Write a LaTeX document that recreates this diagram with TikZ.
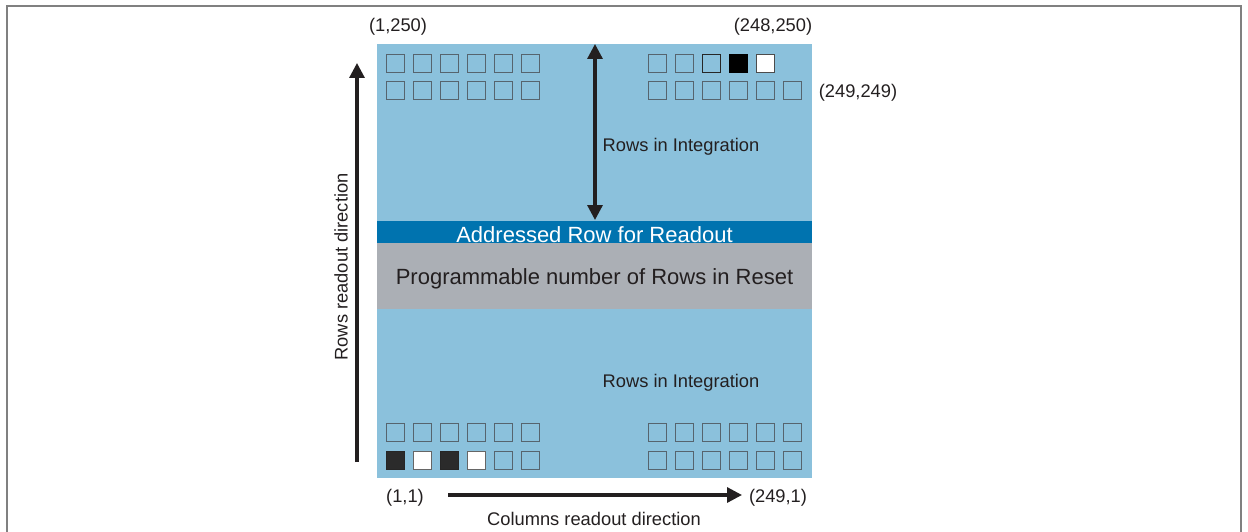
\documentclass[tikz,border=0pt]{standalone}
\usepackage{fontspec}
\setmainfont{Liberation Sans}
\usetikzlibrary{arrows.meta}
\definecolor{pixblue}{HTML}{8BC1DC}
\definecolor{rowblue}{HTML}{0073AF}
\definecolor{resetgray}{HTML}{ABAFB5}
\definecolor{cellline}{HTML}{56646E}
\definecolor{txt}{HTML}{231F20}
\definecolor{framegray}{HTML}{808080}
\tikzset{
  cell/.style={draw=cellline, line width=1.3pt, minimum size=18pt, inner sep=0pt, anchor=north west},
  lbl/.style={text=txt, font=\fontsize{18.3}{22}\selectfont, inner sep=0pt, yshift=-2.5pt},
  biglbl/.style={text=txt, font=\fontsize{22}{26}\selectfont, inner sep=0pt, yshift=-2pt},
  arr/.style={line width=3.2pt, draw=txt, -{Triangle[length=15pt,width=15pt]}},
  darr/.style={line width=3.2pt, draw=txt, {Triangle[length=15pt,width=15pt]}-{Triangle[length=15pt,width=15pt]}},
}
\begin{document}
\begin{tikzpicture}[x=1pt,y=-1pt]
\useasboundingbox (0,0) rectangle (1248,532);
% frame
\draw[framegray, line width=2pt] (7,540) -- (7,6) -- (1241,6) -- (1241,540);
% pixel array
\fill[pixblue] (377,44) rectangle (812,478);
\fill[rowblue] (377,221) rectangle (812,243);
\fill[resetgray] (377,243) rectangle (812,309);
\node[biglbl, text=white] (addr) at (594.5,233) {Addressed Row for Readout};
\node[biglbl] (reset) at (594.5,277) {Programmable number of Rows in Reset};
% cells
\foreach \i in {0,...,5}{
  \node[cell] (tl\i) at ({386+27*\i},54) {};
  \node[cell] (ml\i) at ({386+27*\i},81) {};
  \node[cell] (bl\i) at ({386+27*\i},423) {};
  \node[cell] (br\i) at ({648+27*\i},423) {};
  \node[cell] (mr\i) at ({648+27*\i},81) {};
  \node[cell] (rr\i) at ({648+27*\i},451) {};
}
\foreach \i in {0,1}{
  \node[cell] (tr\i) at ({648+27*\i},54) {};
}
\node[cell, draw=black!85] (tr2) at (702,54) {};
\node[cell, draw=black, fill=black] (tr3) at (729,54) {};
\node[cell, draw=black!70, fill=white] (tr4) at (756,54) {};
\node[cell, draw=black!85, fill=black!83] (ll0) at (386,451) {};
\node[cell, draw=black!60, fill=white] (ll1) at (413,451) {};
\node[cell, draw=black!85, fill=black!83] (ll2) at (440,451) {};
\node[cell, draw=black!60, fill=white] (ll3) at (467,451) {};
\node[cell] (ll4) at (494,451) {};
\node[cell] (ll5) at (521,451) {};
% integration arrow
\coordinate (itop) at (595,44);
\coordinate (ibot) at (595,220);
\draw[darr] (ibot) -- (itop);
\node[lbl] (int1) at (681,144) {Rows in Integration};
\node[lbl] (int2) at (681,380) {Rows in Integration};
% corner labels
\node[lbl] (c1250) at (398,24) {(1,250)};
\node[lbl] (c248) at (773,24) {(248,250)};
\node[lbl] (c249) at (858,90) {(249,249)};
\node[lbl] (c11) at (405,495) {(1,1)};
\node[lbl] (c2491) at (778,495) {(249,1)};
% readout direction arrows
\coordinate (rs) at (357,462);
\coordinate (re) at (357,63);
\draw[arr] (rs) -- (re);
\node[lbl, rotate=90, yshift=0pt, xshift=-2.5pt] (rowsdir) at (341,262) {Rows readout direction};
\coordinate (cs) at (448,495);
\coordinate (ce) at (742,495);
\draw[arr] (cs) -- (ce);
\node[lbl] (coldir) at (594,516) {Columns readout direction};
\end{tikzpicture}
\end{document}
